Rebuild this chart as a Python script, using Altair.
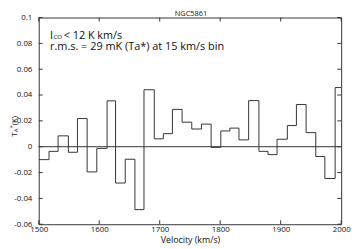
import altair as alt
import pandas as pd

chart_title = "NGC5861"
# left edges of the velocity bins (km/s) and antenna temperature per bin (K)
bin_start = [1500, 1517, 1532, 1549, 1564, 1580, 1596, 1613, 1627, 1643, 1659,
             1674, 1691, 1706, 1721, 1737, 1753, 1769, 1785, 1801, 1816, 1831,
             1847, 1864, 1879, 1894, 1911, 1926, 1942, 1958, 1973, 1990]
ta_values = [-0.010, -0.0036, 0.0084, -0.0043, 0.0218, -0.0195, -0.0013, 0.0355,
             -0.0281, -0.0097, -0.0487, 0.0441, 0.0061, 0.0101, 0.0289, 0.0190,
             0.0137, 0.0175, -0.0005, 0.0122, 0.0144, 0.0053, 0.0357, -0.0036,
             -0.0061, 0.0058, 0.0164, 0.0327, 0.0109, -0.0076, -0.0246, 0.0458]
x_ticks = [1500, 1600, 1700, 1800, 1900, 2000]
y_ticks = [-0.06, -0.04, -0.02, 0, 0.02, 0.04, 0.06, 0.08, 0.1]
x_title = "Velocity (km/s)"
line1_parts = ["I", "CO", "< 12 K km/s"]
line2 = "r.m.s. = 29 mK (Ta*) at 15 km/s bin"
y_title_parts = ["T", "A", "*", " (K)"]

W, H = 308, 210.5
FONT = "Open Sans"
INK = "#333333"
TXT = "#111111"

xs = alt.Scale(domain=[1500, 2000], nice=False, zero=False)
ys = alt.Scale(domain=[-0.06, 0.1], nice=False, zero=False)

x_axis = alt.Axis(
    values=x_ticks, ticks=False, domain=False, grid=False, format="d",
    title=x_title, labelFlush=False, labelPadding=1,
    titlePadding=3, labelFontSize=8, titleFontSize=9,
    labelFont=FONT, titleFont=FONT, labelColor=TXT, titleColor=TXT,
    titleFontWeight="normal")
y_axis = alt.Axis(
    values=y_ticks, ticks=False, domain=False, grid=False,
    labelExpr="datum.value == 0 ? '0' : replace(format(datum.value, '.2~f'), '\u2212', '-')",
    title=None, labelPadding=7, labelFontSize=8,
    labelFont=FONT, labelColor=TXT)

X = alt.X("v:Q", scale=xs, axis=x_axis)
Y = alt.Y("t:Q", scale=ys, axis=y_axis)

step_df = pd.DataFrame({"v": bin_start + [2000], "t": ta_values + [ta_values[-1]]})

line = alt.Chart(step_df).mark_line(
    interpolate="step-after", color=INK, strokeWidth=1, clip=True
).encode(x=X, y=Y)

zero = alt.Chart(pd.DataFrame({"t": [0]})).mark_rule(color=INK, strokeWidth=1).encode(y=Y)

xt = pd.DataFrame({"v": x_ticks})
yt = pd.DataFrame({"t": y_ticks})
tick_bottom = alt.Chart(xt).mark_rule(color=INK).encode(
    x=X, y=alt.value(H), y2=alt.value(H - 4))
tick_top = alt.Chart(xt).mark_rule(color=INK).encode(
    x=X, y=alt.value(0), y2=alt.value(4))
tick_left = alt.Chart(yt).mark_rule(color=INK).encode(
    y=Y, x=alt.value(0), x2=alt.value(4))
tick_right = alt.Chart(yt).mark_rule(color=INK).encode(
    y=Y, x=alt.value(W - 4), x2=alt.value(W))

one = pd.DataFrame({"a": [0]})
def label(txt, x, y, size, align="left", angle=0):
    return alt.Chart(one).mark_text(
        text=txt, align=align, baseline="alphabetic", font=FONT,
        fontSize=size, color=TXT, angle=angle).encode(x=alt.value(x), y=alt.value(y))

B1, B2 = 21.6, 33.4
texts = [
    label(line1_parts[0], 11.5, B1, 11),
    label(line1_parts[1], 15.0, B1, 6.3),
    label(line1_parts[2], 25.5, B1, 11),
    label(line2, 11.5, B2, 11.1),
    label(chart_title, 155, -1.5, 7.5, align="center"),
    # rotated y-axis title  T_A^* (K)
    label(y_title_parts[0], -22.5, 121.5, 8, angle=270),
    label(y_title_parts[1], -21.0, 116.9, 6, angle=270),
    label(y_title_parts[2], -25.5, 113.0, 6, angle=270),
    label(y_title_parts[3], -22.5, 109.8, 8, angle=270),
]

chart = alt.layer(line, zero, tick_bottom, tick_top, tick_left, tick_right, *texts).properties(
    width=W, height=H,
    autosize=alt.AutoSizeParams(type="none"),
    padding={"left": 31.3, "top": 7.5, "right": 10, "bottom": 22},
    background="white",
).configure_view(stroke=INK, strokeWidth=1)

chart.save("out.html", embed_options={"renderer": "svg", "actions": False})
